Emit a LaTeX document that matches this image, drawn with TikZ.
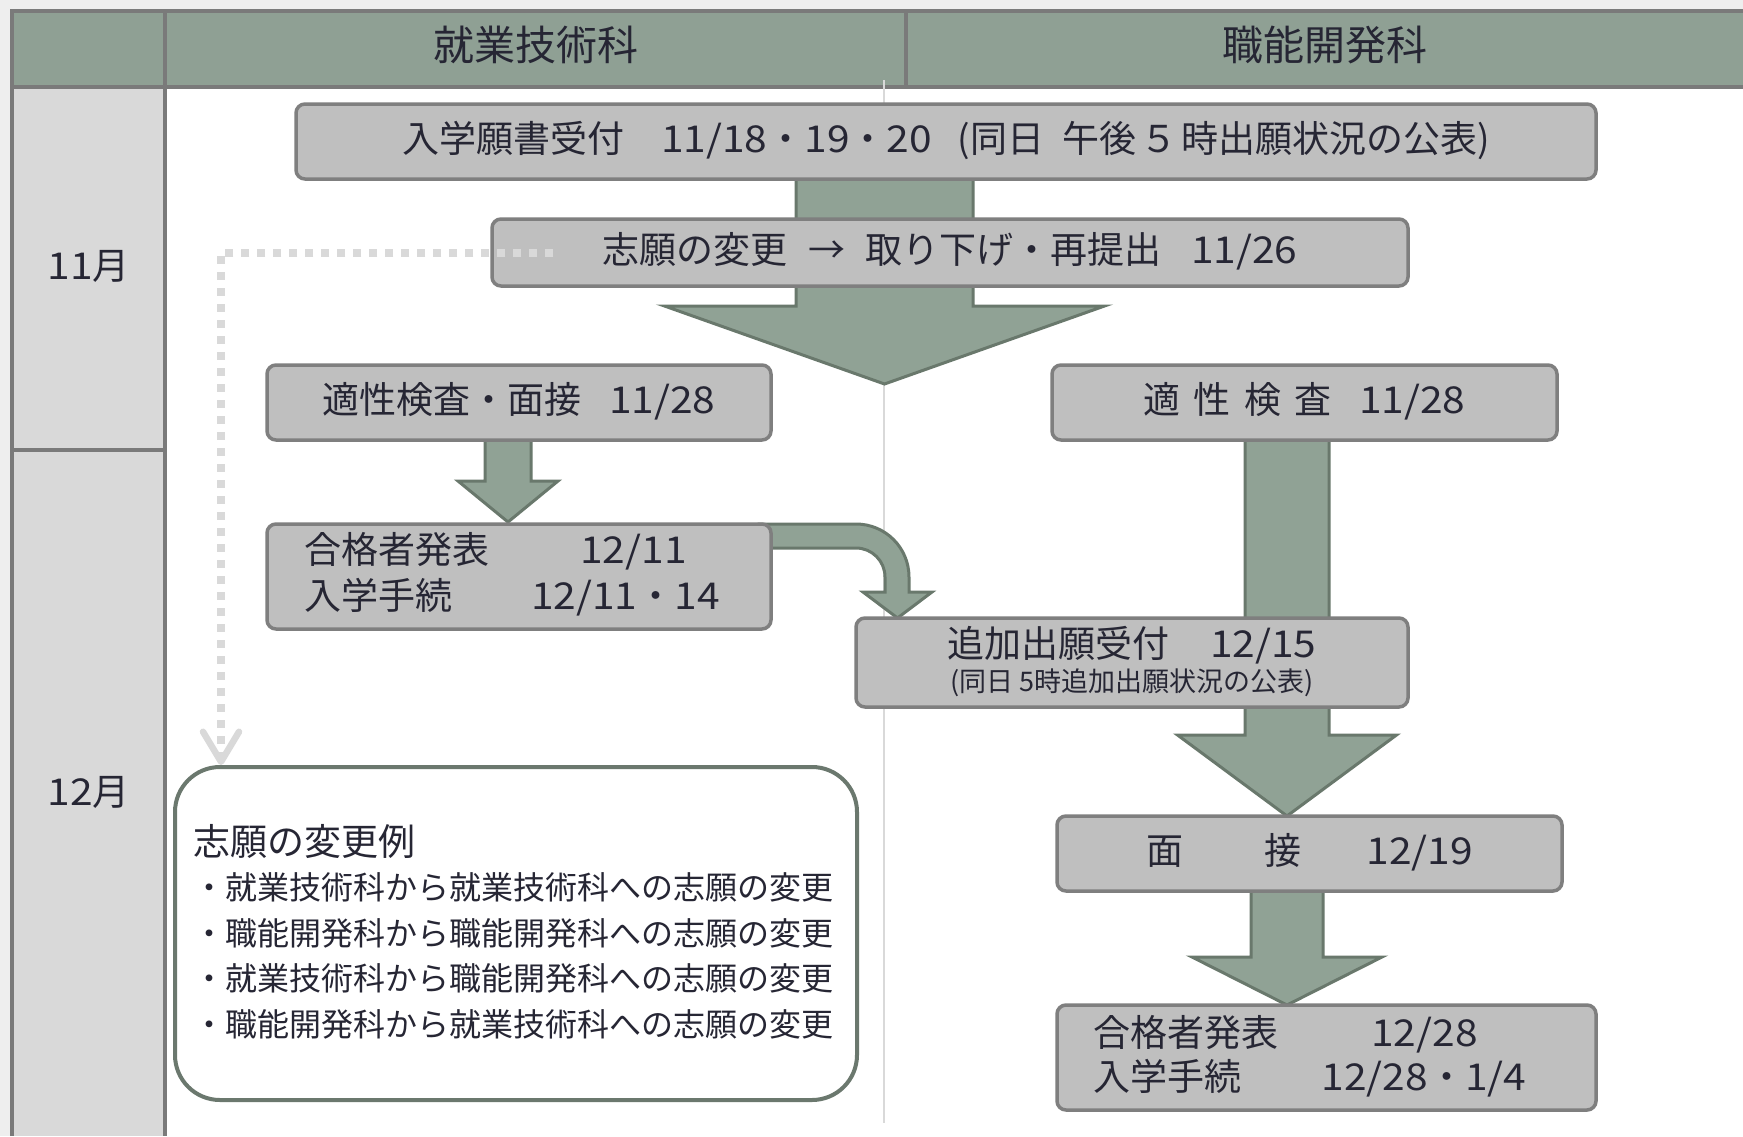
\documentclass[tikz,border=0pt]{standalone}
\usepackage{fontspec}
\setmainfont{Noto Sans CJK JP}
\usetikzlibrary{calc,arrows.meta}
\definecolor{hdr}{RGB}{143,160,148}
\definecolor{arrfill}{RGB}{144,162,149}
\definecolor{arrline}{RGB}{105,120,108}
\definecolor{boxfill}{RGB}{191,191,191}
\definecolor{boxline}{RGB}{127,127,127}
\definecolor{monthfill}{RGB}{217,217,217}
\definecolor{gridline}{RGB}{122,122,122}
\definecolor{txt}{RGB}{38,38,52}
\definecolor{faint}{RGB}{217,217,217}
\definecolor{exline}{RGB}{107,120,110}
\definecolor{bgtex}{RGB}{238,238,238}
\newcommand\nm[1]{\scalebox{1.1}[1]{#1}}
\newcommand\blockdown[5]{%
  \draw[barrow] ($(#1)+(-#3,0)$) -- ($(#2)+(-#3,-#5)$) -- ($(#2)+(-#4,-#5)$) -- (#2)
     -- ($(#2)+(#4,-#5)$) -- ($(#2)+(#3,-#5)$) -- ($(#1)+(#3,0)$) -- cycle;}
\begin{document}
\begin{tikzpicture}[x=1pt,y=-1pt,
  grid/.style={draw=gridline, line width=4pt},
  boxst/.style={draw=boxline, fill=boxfill, line width=3.5pt, rounded corners=9pt, inner sep=0pt,
     text=txt, font=\fontsize{37}{44}\selectfont, text height=31pt, text depth=10pt},
  barrow/.style={draw=arrline, fill=arrfill, line width=3pt, line join=miter},
  lbl/.style={text=txt, inner sep=0pt, font=\fontsize{37}{44}\selectfont},
  smalltxt/.style={text=txt, inner sep=0pt, font=\fontsize{27}{32}\selectfont},
  bul/.style={text=txt, inner sep=0pt, font=\fontsize{32}{38}\selectfont},
  hdrtext/.style={text=txt, inner sep=0pt, font=\fontsize{41}{48}\selectfont},
  dotline/.style={draw=faint, line width=8pt, dash pattern=on 8pt off 8pt,
     -{Straight Barb[length=30pt,width=36pt,line width=6.5pt,round]}},
]
\useasboundingbox (0,0) rectangle (1743,1136);
% table
\fill[bgtex] (0,0) rectangle (1743,1136);
\fill[hdr] (12,11) rectangle (1743,87);
\fill[monthfill] (12,87) rectangle (165,1136);
\fill[white] (165,87) rectangle (1743,1136);
\draw[grid] (1743,11) -- (12,11) -- (12,1136);
\draw[grid] (12,87) -- (1743,87);
\draw[grid] (165,11) -- (165,1136);
\draw[grid] (906,11) -- (906,87);
\draw[grid] (12,450) -- (165,450);
\node[hdrtext, anchor=base] (h1) at (535.5,60) {就業技術科};
\node[hdrtext, anchor=base] (h2) at (1324.5,60) {職能開発科};
\node[lbl, anchor=base] (m11) at (88.5,279) {\nm{11}月};
\node[lbl, anchor=base] (m12) at (88.5,805) {\nm{12}月};
\draw[faint, line width=2.5pt] (884,80) -- (884,1123);

% block arrows (behind boxes)
\coordinate (aS) at (884.5,175);
\coordinate (aT) at (884.5,384);
\blockdown{aS}{aT}{88.5}{220}{78}
\coordinate (bS) at (508,432);
\coordinate (bT) at (508,522);
\blockdown{bS}{bT}{23}{50}{41}
\coordinate (dS) at (1287,432);
\coordinate (dT) at (1287,816);
\blockdown{dS}{dT}{42}{109.5}{81}
\coordinate (eS) at (1287,885);
\coordinate (eT) at (1287,1005);
\blockdown{eS}{eT}{36}{95}{48}
\coordinate (cS) at (771,524);
\coordinate (cT) at (897.5,618);
\draw[barrow] ($(cS)+(-12,0)$) -- ($(cS)+(85,0)$)
   .. controls ($(cS)+(114.3,0)$) and ($(cS)+(138,23.7)$) .. ($(cS)+(138,53)$)
   -- ($(cS)+(138,68)$) -- ($(cS)+(161,68)$) -- (cT) -- ($(cS)+(92,68)$)
   -- ($(cS)+(114,68)$) -- ($(cS)+(114,53)$)
   .. controls ($(cS)+(114,37)$) and ($(cS)+(101,24)$) .. ($(cS)+(85,24)$)
   -- ($(cS)+(-12,24)$) -- cycle;

% boxes
\node[boxst, minimum width=1300, minimum height=75] (b1) at (946,141.5)
  {入学願書受付\hspace{1.0em}\nm{11/18}・\nm{19}・\nm{20}\hspace{0.7em}(同日\hspace{0.5em}午後\hspace{0.1em}５\hspace{0.1em}時出願状況の公表)};
\node[boxst, minimum width=916, minimum height=67] (b2) at (950,252.5)
  {志願の変更\hspace{0.55em}→\hspace{0.55em}取り下げ・再提出\hspace{0.8em}\nm{11/26}};
\node[boxst, minimum width=504, minimum height=75] (b3) at (519,402.5)
  {適性検査・面接\hspace{0.75em}\nm{11/28}};
\node[boxst, minimum width=505, minimum height=75] (b4) at (1304.5,402.5)
  {適\hspace{0.36em}性\hspace{0.36em}検\hspace{0.36em}査\hspace{0.75em}\nm{11/28}};
\node[boxst, minimum width=504, minimum height=105] (b5) at (519,576.5) {};
\node[boxst, minimum width=552, minimum height=89] (b6) at (1132,662.5) {};
\node[boxst, minimum width=505, minimum height=75] (b7) at (1309.5,853.5)
  {面\hspace{2.2em}接\hspace{1.75em}\nm{12/19}};
\node[boxst, minimum width=539, minimum height=105] (b8) at (1326.5,1057.5) {};
\node[draw=exline, fill=white, line width=4pt, rounded corners=45pt, inner sep=0pt,
  minimum width=682, minimum height=333] (ex) at (516,933.5) {};

% texts in two-line boxes
\node[lbl, anchor=base west] (t5a) at (304,563) {合格者発表};
\node[lbl, anchor=base] (t5b) at (633.5,563) {\nm{12/11}};
\node[lbl, anchor=base west] (t5c) at (304,609) {入学手続};
\node[lbl, anchor=base] (t5d) at (625.5,609) {\nm{12/11}・\nm{14}};
\node[lbl, anchor=base] (t6a) at (1132,657) {追加出願受付\hspace{1.1em}\nm{12/15}};
\node[smalltxt, anchor=base] (t6b) at (1132,691) {(同日 5時追加出願状況の公表)};
\node[lbl, anchor=base west] (t8a) at (1093,1046) {合格者発表};
\node[lbl, anchor=base] (t8b) at (1424.5,1046) {\nm{12/28}};
\node[lbl, anchor=base west] (t8c) at (1093,1090) {入学手続};
\node[lbl, anchor=base] (t8d) at (1424,1090) {\nm{12/28}・\nm{1/4}};
\node[lbl, anchor=base west] (ext) at (193,855) {志願の変更例};
\node[bul, anchor=base west] (ex1) at (193,899) {・就業技術科から就業技術科への志願の変更};
\node[bul, anchor=base west] (ex2) at (193,945) {・職能開発科から職能開発科への志願の変更};
\node[bul, anchor=base west] (ex3) at (193,990) {・就業技術科から職能開発科への志願の変更};
\node[bul, anchor=base west] (ex4) at (193,1036) {・職能開発科から就業技術科への志願の変更};

% dotted connector
\coordinate (dX) at (221,0);
\coordinate (dStart) at ($(b2.west)+(63,0)$);
\draw[dotline] (dStart) -| (ex.north -| dX);
\end{tikzpicture}
\end{document}
